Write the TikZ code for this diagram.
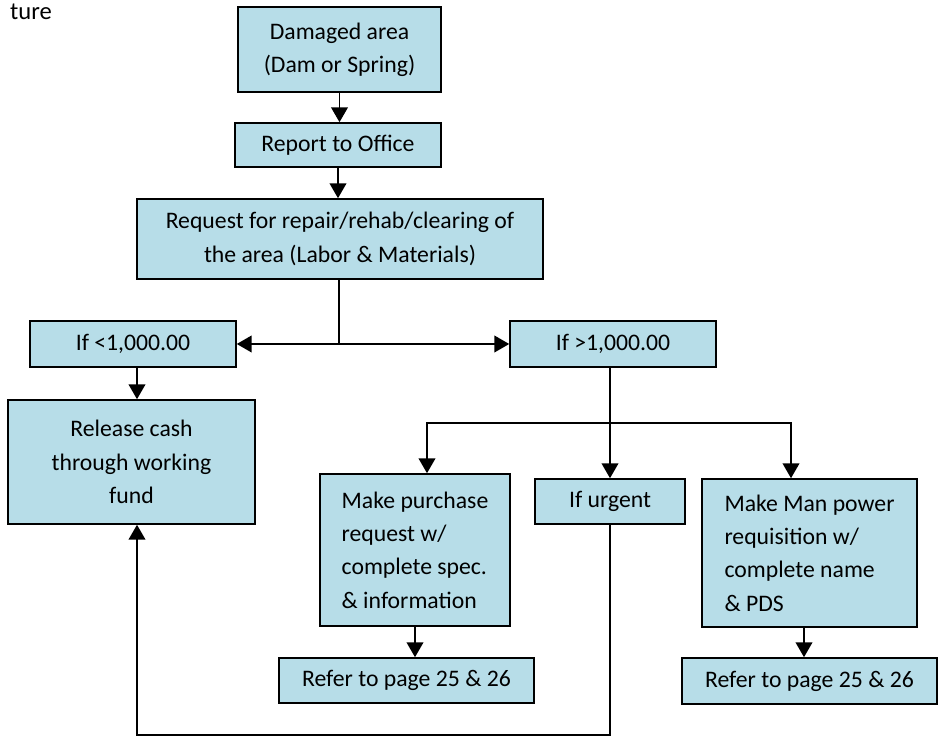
\documentclass[tikz,border=0pt]{standalone}
\usepackage{fontspec}
\setmainfont{Carlito}
\usepackage{tikz}
\usetikzlibrary{arrows.meta}
\definecolor{boxblue}{RGB}{183,221,232}
\tikzstyle{box} = [rectangle, draw=black, fill=boxblue, line width=0.9pt, inner sep=0pt, align=center, font=\fontsize{13.5}{19}\selectfont]
\tikzstyle{arrow} = [line width=1.1pt, -{Triangle[width=9.5pt,length=8.5pt]}]
\tikzstyle{line} = [line width=1.1pt]

\begin{document}
\begin{tikzpicture}[x=0.02cm, y=-0.02cm]
\useasboundingbox (0,0) rectangle (941,736);
\node (title) [anchor=base west, font=\fontsize{14}{19}\selectfont] at (4,20) {ture};

\node (dmg) [box, minimum width=4.06cm, minimum height=1.7cm] at (339.5,49.5) {Damaged area\\(Dam or Spring)};
\node (rep) [box, minimum width=4.12cm, minimum height=0.88cm] at (338,145) {Report to Office};
\node (req) [box, minimum width=8.12cm, minimum height=1.6cm] at (340,239) {Request for repair/rehab/clearing of\\the area (Labor \& Materials)};
\node (lt) [box, minimum width=4.12cm, minimum height=0.92cm] at (133,344) {If <1,000.00};
\node (gt) [box, minimum width=4.12cm, minimum height=0.92cm] at (613,344) {If >1,000.00};
\node (rel) [box, minimum width=4.94cm, minimum height=2.48cm] at (131.5,462) {Release cash\\through working\\fund};
\node (pur) [box, align=left, minimum width=3.8cm, minimum height=3.04cm] at (415,550) {Make purchase\\request w/\\complete spec.\\\& information};
\node (urg) [box, minimum width=3cm, minimum height=0.9cm] at (610,501.5) {If urgent};
\node (man) [box, align=left, minimum width=4.3cm, minimum height=2.96cm] at (809.5,553) {Make Man power\\requisition w/\\complete name\\\& PDS};
\node (ref1) [box, minimum width=5.1cm, minimum height=0.9cm] at (406.5,680.5) {Refer to page 25 \& 26};
\node (ref2) [box, minimum width=5.1cm, minimum height=0.92cm] at (809.5,681) {Refer to page 25 \& 26};

\coordinate (split) at (339,344);
\coordinate (fork) at (610,423);
\coordinate (back) at (137,735);

\draw [arrow] (dmg.south) -- (dmg.south |- rep.north);
\draw [arrow] (rep.south) -- (rep.south |- req.north);
\draw [line] (split |- req.south) -- (split);
\draw [arrow] (split) -- (lt.east);
\draw [arrow] (split) -- (gt.west);
\draw [arrow] ([xshift=0.08cm]lt.south) -- ([xshift=0.08cm]lt.south |- rel.north);
\draw [line] (fork |- gt.south) -- (fork);
\draw [arrow] (fork) -| ([xshift=0.24cm]pur.north);
\draw [arrow] (fork) -- (urg.north);
\draw [arrow] (fork) -| ([xshift=-0.37cm]man.north);
\draw [arrow] (pur.south) -- (pur.south |- ref1.north);
\draw [arrow] ([xshift=-0.11cm]man.south) -- ([xshift=-0.11cm]man.south |- ref2.north);
\draw [arrow] (urg.south) |- (back) -- (back |- rel.south);
\end{tikzpicture}
\end{document}
